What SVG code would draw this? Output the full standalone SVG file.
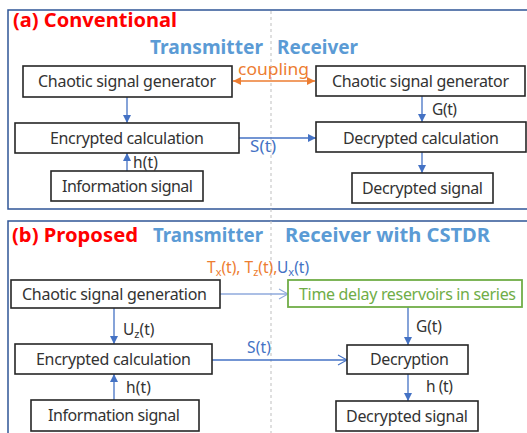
<svg xmlns="http://www.w3.org/2000/svg" width="527" height="433" viewBox="0 0 527 433">
<style>
.frame{fill:none;stroke:#2F5597;stroke-width:1.5}
.box{fill:#fff;stroke:#262626;stroke-width:1.6}
.gbox{fill:#fff;stroke:#70AD47;stroke-width:1.8}
.t{font-family:"Noto Sans","Liberation Sans",sans-serif;font-size:16px;fill:#333}
.lbl{font-family:"Noto Sans","Liberation Sans",sans-serif;font-size:15.5px;fill:#333}
.head{font-family:"Noto Sans","Liberation Sans",sans-serif;font-weight:bold;font-size:19.5px}
.red{fill:#FF0000}
.blue{fill:#5B9BD5}
.arr{stroke:#4472C4;stroke-width:1.3;fill:none}
.arrl{stroke:#8FAADC;stroke-width:1.3;fill:none}
.dash{stroke:#BFBFBF;stroke-width:1;stroke-dasharray:3 3}
</style>
<defs>
<marker id="tri" markerUnits="userSpaceOnUse" markerWidth="9" markerHeight="8" refX="8" refY="4" orient="auto">
<path d="M0,0 L8,4 L0,8 z" fill="#4472C4"/>
</marker>
<marker id="triO" markerUnits="userSpaceOnUse" markerWidth="9" markerHeight="8" refX="8" refY="4" orient="auto-start-reverse">
<path d="M0,0 L8,4 L0,8 z" fill="#ED7D31"/>
</marker>
<marker id="chev" markerUnits="userSpaceOnUse" markerWidth="12" markerHeight="12" refX="10" refY="6" orient="auto">
<path d="M1,1 L10,6 L1,11" fill="none" stroke="#4472C4" stroke-width="1.1"/>
</marker>
<marker id="chevL" markerUnits="userSpaceOnUse" markerWidth="12" markerHeight="12" refX="10" refY="6" orient="auto">
<path d="M1,1 L10,6 L1,11" fill="none" stroke="#8FAADC" stroke-width="1.1"/>
</marker>
</defs>

<rect class="frame" x="8" y="10" width="530" height="199"/>
<rect class="frame" x="8" y="221" width="530" height="230"/>
<line class="dash" x1="271" y1="11" x2="271" y2="433"/>

<g id="headings">
<text class="head red" x="13" y="27" textLength="164" lengthAdjust="spacingAndGlyphs">(a) Conventional</text>
<text class="head blue" x="150" y="54" textLength="113" lengthAdjust="spacingAndGlyphs">Transmitter</text>
<text class="head blue" x="277" y="54" textLength="81" lengthAdjust="spacingAndGlyphs">Receiver</text>
<text class="head red" x="12" y="242" textLength="126" lengthAdjust="spacingAndGlyphs">(b) Proposed</text>
<text class="head blue" x="153" y="242" textLength="110" lengthAdjust="spacingAndGlyphs">Transmitter</text>
<text class="head blue" x="285" y="242" textLength="205" lengthAdjust="spacingAndGlyphs">Receiver with CSTDR</text>
</g>

<g id="connectors">
<line x1="233" y1="81" x2="315" y2="81" stroke="#ED7D31" stroke-width="1.3" marker-start="url(#triO)" marker-end="url(#triO)"/>
<line class="arr" x1="127" y1="97" x2="127" y2="123" marker-end="url(#tri)"/>
<line class="arr" x1="127" y1="171" x2="127" y2="153" marker-end="url(#tri)"/>
<line class="arr" x1="239" y1="138" x2="316" y2="138" marker-end="url(#tri)"/>
<line class="arr" x1="422" y1="96" x2="422" y2="122" marker-end="url(#tri)"/>
<line class="arr" x1="422" y1="152" x2="422" y2="173" marker-end="url(#tri)"/>

<line class="arrl" x1="220" y1="294" x2="288" y2="294" marker-end="url(#chevL)"/>
<line class="arr" x1="114" y1="308" x2="114" y2="344" marker-end="url(#tri)"/>
<line class="arr" x1="114" y1="400" x2="114" y2="374" marker-end="url(#tri)"/>
<line class="arr" x1="212" y1="360" x2="347" y2="360" marker-end="url(#chev)"/>
<line class="arr" x1="408" y1="307" x2="408" y2="345" marker-end="url(#tri)"/>
<line class="arr" x1="408" y1="374" x2="408" y2="401" marker-end="url(#tri)"/>
</g>

<g id="labels">
<text x="238" y="75" font-family="Noto Sans, Liberation Sans, sans-serif" font-size="16.5" fill="#ED7D31" textLength="71" lengthAdjust="spacingAndGlyphs">coupling</text>
<text class="lbl" x="133" y="168" textLength="25">h(t)</text>
<text x="250" y="152" font-family="Noto Sans, Liberation Sans, sans-serif" font-size="17" fill="#4472C4" textLength="26">S(t)</text>
<text class="lbl" x="432" y="115" textLength="25">G(t)</text>

<text x="207" y="273" font-family="Noto Sans, Liberation Sans, sans-serif" font-size="15.5" fill="#ED7D31">T<tspan font-size="11" dy="3">x</tspan><tspan dy="-3">(t), T</tspan><tspan font-size="11" dy="3">z</tspan><tspan dy="-3">(t),</tspan></text>
<text x="277" y="273" font-family="Noto Sans, Liberation Sans, sans-serif" font-size="15.5" fill="#4472C4">U<tspan font-size="11" dy="3">x</tspan><tspan dy="-3">(t)</tspan></text>
<text class="lbl" x="123" y="335">U<tspan font-size="11" dy="3">z</tspan><tspan dy="-3">(t)</tspan></text>
<text class="lbl" x="126" y="393" textLength="25">h(t)</text>
<text x="247" y="353" font-family="Noto Sans, Liberation Sans, sans-serif" font-size="15.5" fill="#4472C4" textLength="24">S(t)</text>
<text class="lbl" x="416" y="332" textLength="26">G(t)</text>
<text class="lbl" x="426" y="392" textLength="27">h (t)</text>
</g>

<g id="a-tx-gen">
<rect class="box" x="23" y="66" width="209" height="31"/>
<text class="t" x="38" y="87" textLength="178">Chaotic signal generator</text>
</g>
<g id="a-rx-gen">
<rect class="box" x="316" y="66" width="209" height="30"/>
<text class="t" x="332" y="87" textLength="177">Chaotic signal generator</text>
</g>
<g id="a-enc">
<rect class="box" x="15" y="123" width="224" height="30"/>
<text class="t" x="50" y="144" textLength="154">Encrypted calculation</text>
</g>
<g id="a-info">
<rect class="box" x="51" y="171" width="152" height="30"/>
<text class="t" x="62" y="192" textLength="131">Information signal</text>
</g>
<g id="a-dec">
<rect class="box" x="316" y="122" width="210" height="30"/>
<text class="t" x="343" y="144" textLength="156">Decrypted calculation</text>
</g>
<g id="a-decsig">
<rect class="box" x="352" y="173" width="141" height="30"/>
<text class="t" x="362" y="194" textLength="121">Decrypted signal</text>
</g>

<g id="b-tx-gen">
<rect class="box" x="11" y="280" width="209" height="28"/>
<text class="t" x="22" y="300" textLength="185">Chaotic signal generation</text>
</g>
<g id="b-reservoir">
<rect class="gbox" x="288" y="280" width="234" height="27"/>
<text class="t" x="299" y="300" style="fill:#70AD47" textLength="217">Time delay reservoirs in series</text>
</g>
<g id="b-enc">
<rect class="box" x="15" y="344" width="197" height="30"/>
<text class="t" x="36" y="365" textLength="155">Encrypted calculation</text>
</g>
<g id="b-info">
<rect class="box" x="31" y="400" width="168" height="31"/>
<text class="t" x="48" y="421" textLength="132">Information signal</text>
</g>
<g id="b-dec">
<rect class="box" x="347" y="345" width="121" height="29"/>
<text class="t" x="370" y="365" textLength="79">Decryption</text>
</g>
<g id="b-decsig">
<rect class="box" x="336" y="401" width="142" height="30"/>
<text class="t" x="346" y="422" textLength="122">Decrypted signal</text>
</g>
</svg>
